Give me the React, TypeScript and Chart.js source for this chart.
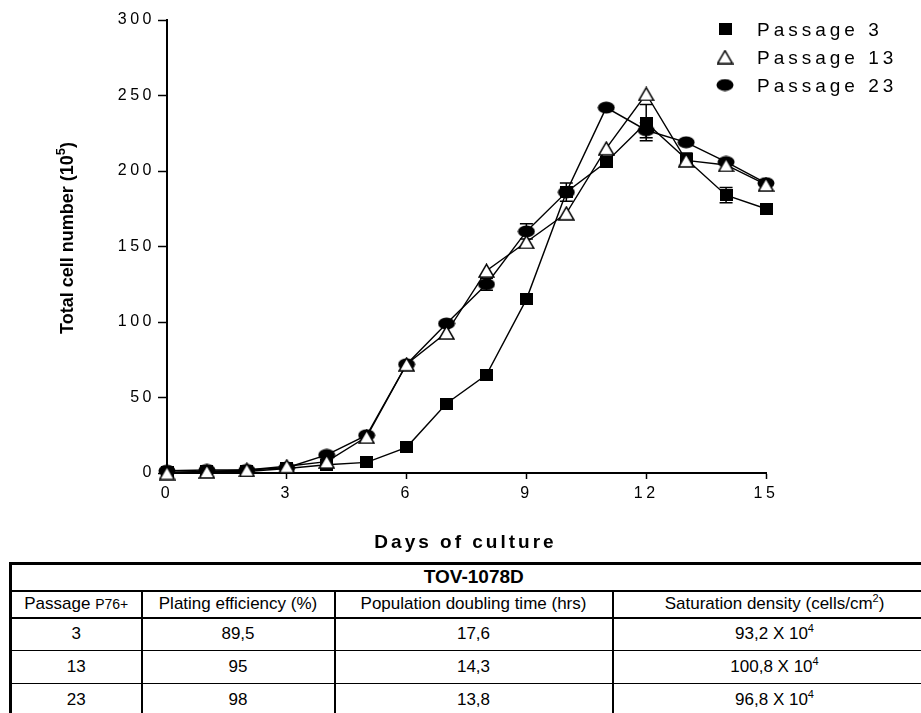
import React, { useEffect, useRef } from 'react';
import { Chart, registerables } from 'chart.js';

Chart.register(...registerables);

const FONT = '"Liberation Sans", Arial, Helvetica, sans-serif';

// ---- chart data ----
const days = [0, 1, 2, 3, 4, 5, 6, 7, 8, 9, 10, 11, 12, 13, 14, 15];
const passage3 = [0.5, 1, 1, 3, 5.5, 7, 17, 46, 65, 115, 186, 206, 232, 208, 184, 175];
const passage13 = [0, 1, 2, 4.5, 7.5, 24, 72, 93, 134, 153, 172, 215, 251, 207, 204, 191];
const passage23 = [1.5, 2, 2, 3.5, 12, 25, 72, 99, 125, 160, 186, 242, 227, 219, 206, 192];
const err3 = [0, 0, 0, 0, 0, 0, 0, 0, 0, 0, 0, 0, 12, 4, 5, 0];
const err13 = [0, 0, 0, 0, 0, 0, 0, 0, 0, 0, 0, 0, 0, 0, 0, 0];
const err23 = [0, 0, 0, 0, 0, 0, 0, 0, 4, 5, 6, 0, 5, 0, 0, 0];
const drawOrder = [2, 0, 1];
const seriesLabels = ['Passage 3', 'Passage 13', 'Passage 23'];
const yTitle = 'Total cell number (10';
const yTitleSup = '5';
const xTitle = 'Days of culture';

// ---- table data ----
const tableTitle = 'TOV-1078D';
const tablePassages = ['3', '13', '23'];
const platingEfficiency = ['89,5', '95', '98'];
const doublingTime = ['17,6', '14,3', '13,8'];
const saturationDensity = ['93,2', '100,8', '96,8'];

function makeSquare() {
  const c = document.createElement('canvas');
  c.width = 13; c.height = 12;
  const g = c.getContext('2d')!;
  g.fillStyle = '#000';
  g.fillRect(0, 0, 13, 12);
  return c;
}
function makeTriangle() {
  const c = document.createElement('canvas');
  c.width = 17; c.height = 15;
  const g = c.getContext('2d')!;
  g.beginPath();
  g.moveTo(8.5, 1.2);
  g.lineTo(16, 14);
  g.lineTo(1, 14);
  g.closePath();
  g.fillStyle = '#fff';
  g.fill();
  g.lineWidth = 1.5;
  g.strokeStyle = '#000';
  g.stroke();
  return c;
}
function makeEllipse() {
  const c = document.createElement('canvas');
  c.width = 18; c.height = 13;
  const g = c.getContext('2d')!;
  g.beginPath();
  g.ellipse(9, 6.5, 8.5, 6, 0, 0, Math.PI * 2);
  g.fillStyle = '#000';
  g.fill();
  return c;
}

export default function App() {
  const ref = useRef<HTMLCanvasElement>(null);

  useEffect(() => {
    const styles = [makeSquare(), makeTriangle(), makeEllipse()];
    const series = [passage3, passage13, passage23];
    const errs = [err3, err13, err23];

    const spacingPlugin = {
      id: 'spacing',
      beforeDraw(chart: any) {
        (chart.ctx as any).letterSpacing = '3.5px';
      },
    };

    const errorBarPlugin = {
      id: 'errorBars',
      beforeDatasetsDraw(chart: any) {
        const ctx = chart.ctx;
        const xs = chart.scales.x;
        const ys = chart.scales.y;
        ctx.save();
        ctx.strokeStyle = '#000';
        ctx.lineWidth = 1.5;
        series.forEach((s, i) => {
          s.forEach((v, j) => {
            const e = errs[i][j];
            if (!e) return;
            const x = xs.getPixelForValue(days[j]);
            const yt = ys.getPixelForValue(v + e);
            const yb = ys.getPixelForValue(v - e);
            ctx.beginPath();
            ctx.moveTo(x, yt); ctx.lineTo(x, yb);
            ctx.moveTo(x - 6.5, yt); ctx.lineTo(x + 6.5, yt);
            ctx.moveTo(x - 6.5, yb); ctx.lineTo(x + 6.5, yb);
            ctx.stroke();
          });
        });
        ctx.restore();
      },
    };

    const decoPlugin = {
      id: 'deco',
      afterDraw(chart: any) {
        const ctx = chart.ctx;
        ctx.save();
        // legend
        const legendY = [29, 57, 85];
        ctx.fillStyle = '#000';
        ctx.font = `19px ${FONT}`;
        (ctx as any).letterSpacing = '4px';
        ctx.textAlign = 'left';
        ctx.textBaseline = 'alphabetic';
        seriesLabels.forEach((lab, i) => {
          const st = styles[i];
          ctx.drawImage(st, 725 - st.width / 2, legendY[i] - st.height / 2);
          ctx.fillText(lab, 757, legendY[i] + 7);
        });
        // x title
        ctx.font = `bold 19px ${FONT}`;
        (ctx as any).letterSpacing = '3px';
        const xw = ctx.measureText(xTitle).width - 3;
        ctx.fillText(xTitle, 464 - xw / 2, 548);
        // y title
        (ctx as any).letterSpacing = '0px';
        ctx.translate(73, 238);
        ctx.rotate(-Math.PI / 2);
        ctx.font = `bold 18px ${FONT}`;
        const w1 = ctx.measureText(yTitle).width;
        ctx.font = `bold 13px ${FONT}`;
        const w2 = ctx.measureText(yTitleSup).width;
        ctx.font = `bold 18px ${FONT}`;
        const w3 = ctx.measureText(')').width;
        const total = w1 + w2 + w3;
        let sx = -total / 2;
        ctx.fillText(yTitle, sx, 0);
        sx += w1;
        ctx.font = `bold 13px ${FONT}`;
        ctx.fillText(yTitleSup, sx, -8);
        sx += w2;
        ctx.font = `bold 18px ${FONT}`;
        ctx.fillText(')', sx, 0);
        ctx.restore();
      },
    };

    const chart = new Chart(ref.current!, {
      type: 'line',
      data: {
        datasets: series.map((s, i) => ({
          label: seriesLabels[i],
          data: days.map((d, j) => ({ x: d, y: s[j] })),
          borderColor: '#000',
          backgroundColor: '#000',
          borderWidth: 1.4,
          pointStyle: styles[i] as any,
          pointRadius: 6,
          pointHoverRadius: 6,
          clip: false as any,
          tension: 0,
          order: drawOrder[i],
        })),
      },
      options: {
        responsive: false,
        animation: false,
        events: [],
        layout: { padding: { top: 20, right: 155, left: 0, bottom: 0 } },
        plugins: { legend: { display: false }, tooltip: { enabled: false } },
        scales: {
          x: {
            type: 'linear',
            min: 0,
            max: 15,
            ticks: { stepSize: 3, color: '#000', font: { family: FONT, size: 16 }, padding: 5, maxRotation: 0 },
            grid: { drawOnChartArea: false, drawTicks: true, tickLength: 6, tickColor: '#000', tickWidth: 1.5 },
            border: { color: '#000', width: 2 },
            afterFit: (s: any) => { s.height = 87; },
          },
          y: {
            min: 0,
            max: 300,
            ticks: { stepSize: 50, color: '#000', font: { family: FONT, size: 16 }, padding: 3 },
            grid: { drawOnChartArea: false, drawTicks: true, tickLength: 9, tickColor: '#000', tickWidth: 1.5 },
            border: { color: '#000', width: 2 },
            afterFit: (s: any) => { s.width = 167; },
          },
        },
      } as any,
      plugins: [spacingPlugin, errorBarPlugin, decoPlugin],
    });
    return () => chart.destroy();
  }, []);

  const cell: React.CSSProperties = {
    padding: 0,
    textAlign: 'center',
    verticalAlign: 'middle',
    borderLeft: '2px solid #000',
    whiteSpace: 'nowrap',
  };
  const sup: React.CSSProperties = { fontSize: 11, lineHeight: 0, verticalAlign: 'super' };

  return (
    <div style={{ position: 'absolute', left: 0, top: 0, width: 921, height: 713, overflow: 'hidden', background: '#fff' }}>
      <canvas ref={ref} width={921} height={560} style={{ position: 'absolute', left: 0, top: 0 }} />
      <table
        style={{
          position: 'absolute',
          left: 9,
          top: 562,
          width: 925,
          borderCollapse: 'collapse',
          tableLayout: 'fixed',
          fontFamily: FONT,
          fontSize: 17,
          color: '#000',
          borderTop: '3px solid #000',
          borderLeft: '3px solid #000',
        }}
      >
        <colgroup>
          <col style={{ width: 131 }} />
          <col style={{ width: 193 }} />
          <col style={{ width: 278 }} />
          <col style={{ width: 323 }} />
        </colgroup>
        <tbody>
          <tr style={{ height: 27 }}>
            <td colSpan={4} style={{ ...cell, fontWeight: 'bold', fontSize: 19, borderBottom: '2px solid #000', borderLeft: '3px solid #000' }}>
              {tableTitle}
            </td>
          </tr>
          <tr style={{ height: 27 }}>
            <td style={{ ...cell, borderLeft: '3px solid #000', borderBottom: '2px solid #000' }}>
              Passage <span style={{ fontSize: 14 }}>P76+</span>
            </td>
            <td style={{ ...cell, borderBottom: '2px solid #000' }}>Plating efficiency (%)</td>
            <td style={{ ...cell, borderBottom: '2px solid #000' }}>Population doubling time (hrs)</td>
            <td style={{ ...cell, borderBottom: '2px solid #000' }}>
              Saturation density (cells/cm<sup style={sup}>2</sup>)
            </td>
          </tr>
          {tablePassages.map((p, i) => (
            <tr key={p} style={{ height: 33 }}>
              <td style={{ ...cell, borderLeft: '3px solid #000', borderBottom: '1px solid #000' }}>{p}</td>
              <td style={{ ...cell, borderBottom: '1px solid #000' }}>{platingEfficiency[i]}</td>
              <td style={{ ...cell, borderBottom: '1px solid #000' }}>{doublingTime[i]}</td>
              <td style={{ ...cell, borderBottom: '1px solid #000' }}>
                {saturationDensity[i]} X 10<sup style={sup}>4</sup>
              </td>
            </tr>
          ))}
        </tbody>
      </table>
    </div>
  );
}
